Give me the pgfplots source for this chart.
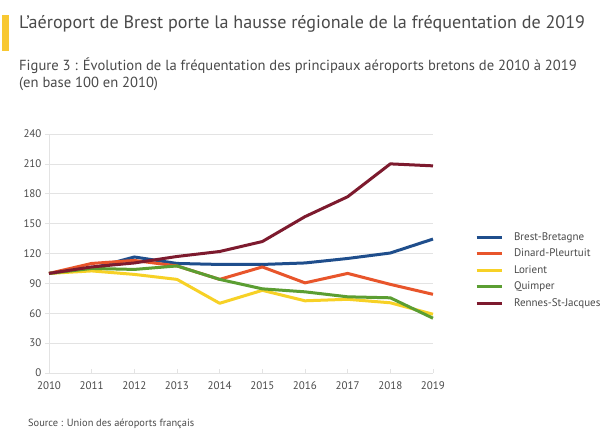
\documentclass[border=0pt]{standalone}
\usepackage{pgfplots}
\pgfplotsset{compat=1.18}
\usepackage{fontspec}
\setmainfont{PT Sans}
\definecolor{cbrest}{HTML}{1F4E8C}
\definecolor{cdinard}{HTML}{E8552B}
\definecolor{clorient}{HTML}{F7D126}
\definecolor{cquimper}{HTML}{5B9E32}
\definecolor{crennes}{HTML}{7D1A2E}
\definecolor{cbar}{HTML}{F8C832}
\definecolor{ctext}{HTML}{4A4A4A}
\definecolor{cgrid}{HTML}{E3E3E3}
\begin{document}
\begin{tikzpicture}[x=1bp,y=1bp]
\path[use as bounding box,fill=white] (0,0) rectangle (600,433);
\fill[cbar] (2,382) rectangle (9,418);
\node[anchor=base west,inner sep=0,text=ctext,font=\fontsize{18.1bp}{21bp}\selectfont] at (19,404.7) {L’aéroport de Brest porte la hausse régionale de la fréquentation de 2019};
\node[anchor=base west,inner sep=0,text=ctext,font=\fontsize{14.6bp}{17bp}\selectfont] at (19,362.3) {Figure 3 : Évolution de la fréquentation des principaux aéroports bretons de 2010 à 2019};
\node[anchor=base west,inner sep=0,text=ctext,font=\fontsize{14.6bp}{17bp}\selectfont] at (19,345.7) {(en base 100 en 2010)};
\node[anchor=base west,inner sep=0,text=ctext,font=\fontsize{10.4bp}{12bp}\selectfont] at (28,6) {Source : Union des aéroports français};
\begin{axis}[
  at={(49bp,60bp)}, anchor=south west,
  scale only axis, width=384bp, height=239bp,
  xmin=2010, xmax=2019, ymin=0, ymax=240,
  xtick={2010,...,2019}, ytick={0,30,...,240},
  /pgf/number format/assume math mode=true,
  xticklabel style={/pgf/number format/1000 sep={}},
  x tick label style={text=ctext,font=\fontsize{11bp}{13bp}\selectfont, yshift=-5bp},
  y tick label style={text=ctext,font=\fontsize{11bp}{13bp}\selectfont},
  ymajorgrids, grid style={cgrid, line width=0.6bp},
  axis x line*=bottom, axis y line*=left,
  axis line style={cgrid, line width=0.7bp, -},
  tick style={cgrid, line width=0.6bp},
  major tick length=4bp,
  xtick align=inside, ytick align=outside,
  clip=false,
  legend style={at={(1.109,0.597)}, anchor=north west, draw=none, fill=none, inner sep=0pt,
    font=\fontsize{11bp}{13bp}\selectfont, text=ctext, row sep=3.2bp,
    /tikz/every odd column/.append style={column sep=9bp}},
  legend cell align=left,
  legend image code/.code={\draw[#1] (0bp,0bp) -- (25bp,0bp);},
  every axis plot/.append style={line width=3bp, line join=round},
]
\addplot[cbrest] coordinates {(2010,100) (2011,105) (2012,116.5) (2013,110) (2014,109) (2015,109) (2016,110.5) (2017,115) (2018,120.5) (2019,134.5)};
\addlegendentry{Brest-Bretagne}
\addplot[cdinard] coordinates {(2010,100) (2011,110) (2012,113) (2013,107.5) (2014,94) (2015,106.5) (2016,90.5) (2017,100) (2018,89) (2019,79)};
\addlegendentry{Dinard-Pleurtuit}
\addplot[clorient] coordinates {(2010,100) (2011,102.5) (2012,99) (2013,94) (2014,70) (2015,83) (2016,72.5) (2017,74) (2018,70.5) (2019,59)};
\addlegendentry{Lorient}
\addplot[cquimper] coordinates {(2010,100) (2011,105) (2012,104) (2013,107.5) (2014,94) (2015,84.5) (2016,81.5) (2017,76.5) (2018,75.5) (2019,55)};
\addlegendentry{Quimper}
\addplot[crennes] coordinates {(2010,100) (2011,106.5) (2012,110.5) (2013,117) (2014,122) (2015,132) (2016,157) (2017,177) (2018,210) (2019,208)};
\addlegendentry{Rennes-St-Jacques}
\end{axis}
\end{tikzpicture}
\end{document}
